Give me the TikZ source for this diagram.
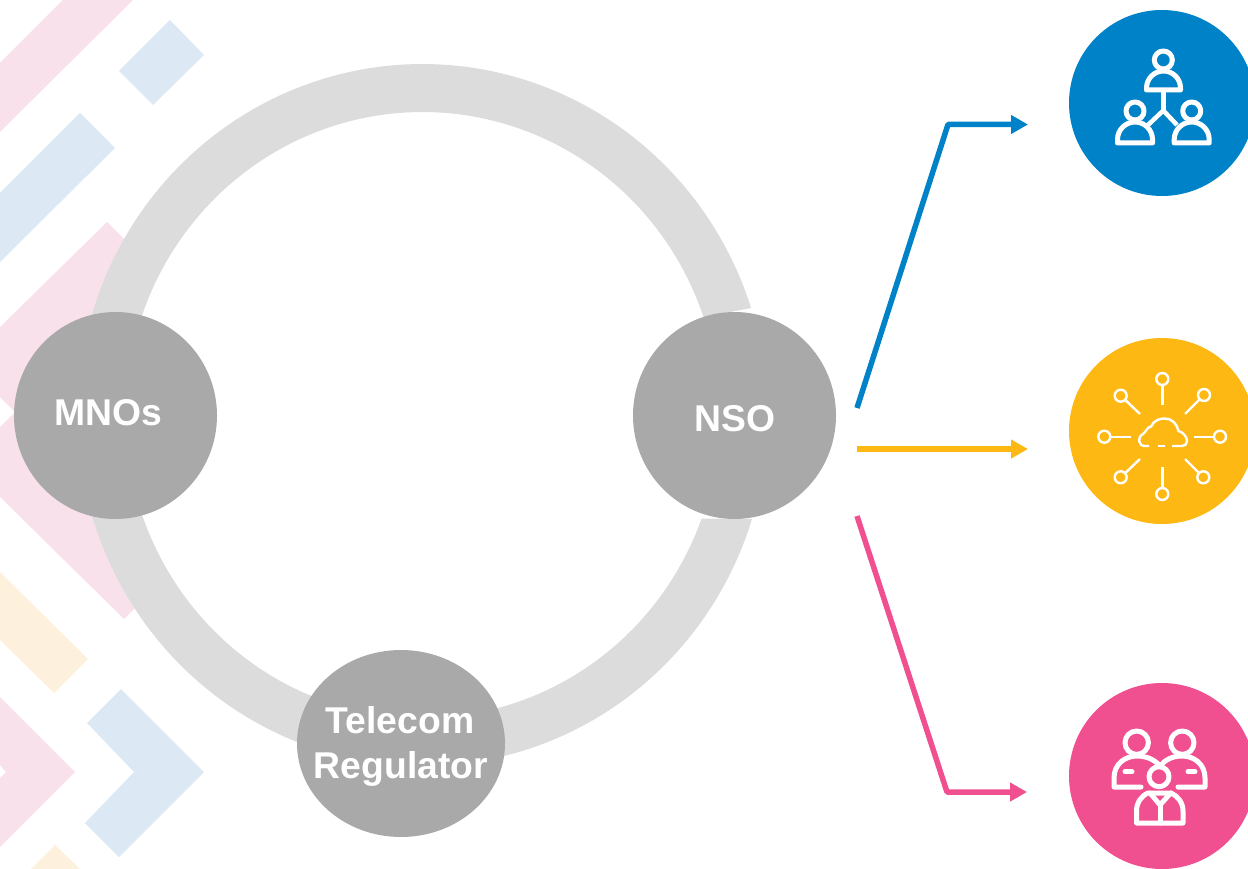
\documentclass[tikz,border=0pt]{standalone}
\usepackage{fontspec}
\setmainfont{Liberation Sans}
\usetikzlibrary{arrows.meta,shapes.geometric}
\definecolor{bgblue}{HTML}{DCE8F3}
\definecolor{bgpink}{HTML}{F9E1EB}
\definecolor{bgyellow}{HTML}{FDF1DD}
\definecolor{ringgrey}{HTML}{DCDCDC}
\definecolor{nodegrey}{HTML}{A9A9A9}
\definecolor{cblue}{HTML}{0082C8}
\definecolor{cyellow}{HTML}{FDB813}
\definecolor{cpink}{HTML}{F05090}
\tikzset{
  greynode/.style={ellipse,fill=nodegrey,inner sep=0pt,outer sep=0pt},
  iconcircle/.style={circle,inner sep=0pt,outer sep=0pt,minimum size=186pt},
  nodetext/.style={anchor=base,text=white,inner sep=0pt,font=\fontsize{37.3}{45}\selectfont\bfseries},
  flow/.style={line width=5.5pt,line join=round,-{Triangle[length=17pt,width=18pt]}},
  iconbold/.style={draw=white,line width=5pt,line join=round,line cap=round},
  iconthin/.style={draw=white,line width=2.4pt,line join=round},
}
% dome-shaped shoulders: centre x, half width, base y, top y
\newcommand{\icondome}[4]{%
  \draw[iconbold] ({#1-#2},#3) -- ({#1-#2},{#4+#2}) .. controls ({#1-#2},{#4+0.45*#2}) and ({#1-0.55*#2},#4) .. (#1,#4)
    .. controls ({#1+0.55*#2},#4) and ({#1+#2},{#4+0.45*#2}) .. ({#1+#2},{#4+#2}) -- ({#1+#2},#3) -- cycle;}
\begin{document}
\begin{tikzpicture}[x=1pt,y=-1pt]
\useasboundingbox (0,0) rectangle (1248,869);
\clip (0,0) rectangle (1248,869);
% background bands
\fill[bgpink] (0,63) -- (63,0) -- (133,0) -- (0,132) -- cycle;
\fill[bgblue] (170,20) -- (204,55) -- (153,105) -- (119,71) -- cycle;
\fill[bgblue] (80,113) -- (115,148) -- (0,262) -- (0,193) -- cycle;
\fill[bgpink] (0,327) -- (107,222) -- (137,252) -- (140,300) -- (140,590) -- (145,598) -- (124,619) -- (0,497) -- (0,427) -- (15,412) -- (0,397) -- cycle;
\fill[bgyellow] (0,572) -- (88,659) -- (54,693) -- (0,640) -- cycle;
\fill[bgpink] (0,697) -- (75,772) -- (0,847) -- (0,778) -- (6,772) -- (0,765) -- cycle;
\fill[bgblue] (121,689) -- (204,772) -- (119,857) -- (85,823) -- (134,772) -- (87,723) -- cycle;
\fill[bgyellow] (55,845) -- (80,869) -- (31,869) -- cycle;
% ring
\fill[ringgrey] plot[domain=175:17.75,samples=100,variable=\ang] ({422.5+345*cos(\ang)},{415-351*sin(\ang)})
  -- plot[domain=18.87:175,samples=100,variable=\ang] ({422.5+297*cos(\ang)},{415-303*sin(\ang)}) -- cycle;
\fill[ringgrey] plot[domain=-175:-17.2,samples=100,variable=\ang] ({422.5+345*cos(\ang)},{415-351*sin(\ang)})
  -- plot[domain=-20:-175,samples=100,variable=\ang] ({422.5+297*cos(\ang)},{415-303*sin(\ang)}) -- cycle;
% grey nodes
\node[greynode,minimum width=203pt,minimum height=207pt] (mnos) at (115.5,415.5) {};
\node[greynode,minimum width=203pt,minimum height=207pt] (nso) at (734.5,415.5) {};
\node[greynode,minimum width=208pt,minimum height=187pt] (regulator) at (401,743.5) {};
\node[nodetext] (mnostext) at (108,425) {MNOs};
\node[nodetext] (nsotext) at (735,431) {NSO};
\node[nodetext] (telecomtext) at (400,733) {Telecom};
\node[nodetext] (regulatortext) at (401,778) {Regulator};
% icon discs
\node[iconcircle,fill=cblue] (iconblue) at (1162,103) {};
\node[iconcircle,fill=cyellow] (iconyellow) at (1162,431) {};
\node[iconcircle,fill=cpink] (iconpink) at (1162,776) {};
% flows
\coordinate (bluestart) at (857,408);
\coordinate (bluecorner) at (948,124.5);
\coordinate (blueend) at (1028,124.5);
\coordinate (yellowstart) at (857,449);
\coordinate (yellowend) at (1028,449);
\coordinate (pinkstart) at (857,516);
\coordinate (pinkcorner) at (947,792);
\coordinate (pinkend) at (1027,792);
\draw[flow,draw=cblue] (bluestart) -- (bluecorner) -- (blueend);
\draw[flow,draw=cyellow] (yellowstart) -- (yellowend);
\draw[flow,draw=cpink] (pinkstart) -- (pinkcorner) -- (pinkend);
% blue icon
\draw[iconbold] (1163.3,60) circle[radius=9];
\draw[iconbold] (1135,111) circle[radius=9];
\draw[iconbold] (1191.7,111) circle[radius=9];
\icondome{1163.5}{17}{90}{71}
\icondome{1135}{17.5}{143}{122}
\icondome{1191.7}{17.5}{143}{122}
\draw[iconbold,line width=4.5pt,line cap=butt] (1163.3,92) -- (1163.3,111);
\draw[iconbold,line width=4.5pt,line cap=butt] (1148,125) -- (1163.3,110.5) -- (1177,125);
% yellow icon
\foreach \rx/\ry/\ex/\ey in {1162.3/379/1162.3/405, 1120.7/395.7/1140/414, 1204/395/1185/414, 1104.3/436.7/1130.7/436.7, 1220/436.7/1194/436.7, 1120.7/477.3/1140/459, 1203.3/477.3/1185/459, 1162.3/494/1162.3/467.3}{
  \draw[iconthin] (\rx,\ry) circle[radius=6];
  \draw[iconthin,shorten <=6pt] (\rx,\ry) -- (\ex,\ey);
}
\draw[iconthin] (1149,446) -- (1145,446) .. controls (1138,446) and (1137,437) .. (1143,434)
  .. controls (1146,432) and (1147,427) .. (1151,426.5)
  .. controls (1154,420) and (1160,418.5) .. (1165,418.5)
  .. controls (1172,418.5) and (1177,424) .. (1178.5,431)
  .. controls (1183,432) and (1187,437) .. (1187,441)
  .. controls (1187,444) and (1185,446) .. (1182,446) -- (1172,446);
\draw[iconthin] (1158,446) -- (1165,446);
% pink icon
\draw[iconbold] (1136.7,742.7) circle[radius=11.7];
\draw[iconbold] (1182.3,742.7) circle[radius=11.7];
\draw[iconbold] (1159,776.7) circle[radius=10];
\draw[iconbold] (1141,787) -- (1114,787) -- (1114,778) .. controls (1114,764) and (1125,756) .. (1137,756) .. controls (1147,756) and (1155,760) .. (1160,766) .. controls (1165,760) and (1172,756) .. (1182,756) .. controls (1194,756) and (1205,764) .. (1205,778) -- (1205,787) -- (1178,787);
\draw[iconbold] (1148,793) .. controls (1141,796) and (1136.5,803) .. (1136.5,811) -- (1136.5,823) -- (1183,823) -- (1183,811) .. controls (1183,803) and (1178,796) .. (1171,793) -- cycle;
\draw[iconbold] (1150,793) -- (1160,805) -- (1170.7,793);
\draw[iconbold] (1160,805) -- (1160,823);
\draw[iconbold] (1125,771.7) -- (1132,771.7);
\draw[iconbold] (1188,771.7) -- (1195,771.7);
\end{tikzpicture}
\end{document}
